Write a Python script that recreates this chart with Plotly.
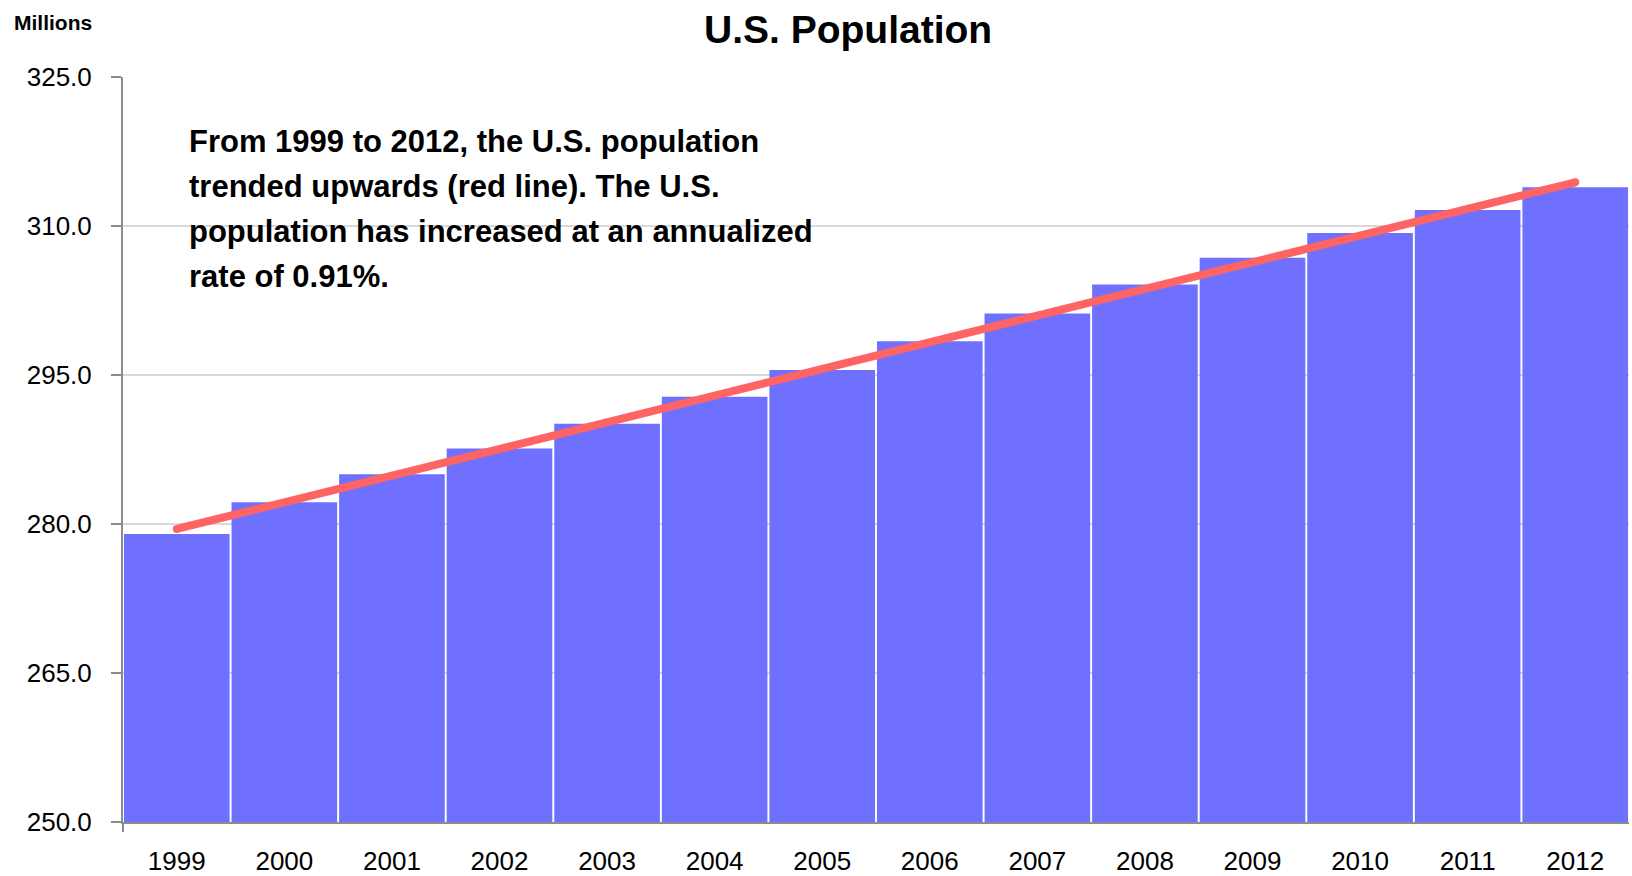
import plotly.graph_objects as go

years = ["1999", "2000", "2001", "2002", "2003", "2004", "2005",
         "2006", "2007", "2008", "2009", "2010", "2011", "2012"]
population = [279.0, 282.2, 285.0, 287.6, 290.1, 292.8, 295.5,
              298.4, 301.2, 304.1, 306.8, 309.3, 311.6, 313.9]
trend_years = ["1999", "2012"]
trend_values = [279.5, 314.4]
y_ticks = [250.0, 265.0, 280.0, 295.0, 310.0, 325.0]
note_lines = [
    "From 1999 to 2012, the U.S. population",
    "trended upwards (red line). The U.S.",
    "population has increased at an annualized",
    "rate of 0.91%.",
]

FONT = "Liberation Sans, Arial, sans-serif"
W, H = 1632, 876
ML, MR, MT, MB = 123, 3, 77, 54
PW, PH = W - ML - MR, H - MT - MB


def px(x):
    return (x - ML) / PW


def py(y):
    return (H - MB - y) / PH


fig = go.Figure()
fig.add_trace(go.Bar(
    x=years, y=population, marker=dict(color="#7070FF", line=dict(width=0)),
    hoverinfo="x+y", showlegend=False,
))
fig.add_trace(go.Scatter(
    x=trend_years, y=trend_values, mode="lines+markers",
    line=dict(color="#FF6464", width=8),
    marker=dict(color="#FF6464", size=8),
    showlegend=False,
))

annotations = [
    dict(text="<b>U.S. Population</b>", x=px(848), y=py(29), xref="paper", yref="paper",
         xanchor="center", yanchor="middle", showarrow=False,
         font=dict(family=FONT, size=39, color="#000")),
    dict(text="<b>Millions</b>", x=px(12), y=py(23), xref="paper", yref="paper",
         xanchor="left", yanchor="middle", showarrow=False,
         font=dict(family=FONT, size=21, color="#000")),
]
line_centers = [141.5, 186.5, 231.5, 276.5]
for txt, yc in zip(note_lines, line_centers):
    annotations.append(dict(
        text="<b>" + txt + "</b>", x=px(187), y=py(yc), xref="paper", yref="paper",
        xanchor="left", yanchor="middle", showarrow=False,
        font=dict(family=FONT, size=31, color="#000")))

fig.update_layout(
    width=W, height=H,
    margin=dict(l=ML, r=MR, t=MT, b=MB, pad=0, autoexpand=False),
    paper_bgcolor="white", plot_bgcolor="white",
    bargap=0.018,
    annotations=annotations,
    shapes=[dict(type="line", xref="paper", yref="paper", x0=0, x1=0,
                 y0=0, y1=-10 / PH, line=dict(color="#8c8c8c", width=2))],
    xaxis=dict(
        type="category", range=[-0.5, 13.5], autorange=False,
        showgrid=False, showline=True, linecolor="#8c8c8c", linewidth=2,
        ticks="", tickfont=dict(family=FONT, size=26, color="#000"),
        ticklabelstandoff=15, fixedrange=True, automargin=False,
    ),
    yaxis=dict(
        range=[250, 325], autorange=False, tickvals=y_ticks, tickformat=".1f",
        showgrid=True, gridcolor="#d9d9d9", gridwidth=1.5,
        showline=True, linecolor="#8c8c8c", linewidth=2,
        ticks="outside", ticklen=10, tickcolor="#8c8c8c", tickwidth=2,
        tickfont=dict(family=FONT, size=26, color="#000"),
        ticklabelstandoff=14, zeroline=False, automargin=False,
    ),
)

fig.write_html(
    "out.html",
    config={"displayModeBar": False},
    post_script="document.body.style.margin='0';document.body.style.overflow='hidden';",
)
